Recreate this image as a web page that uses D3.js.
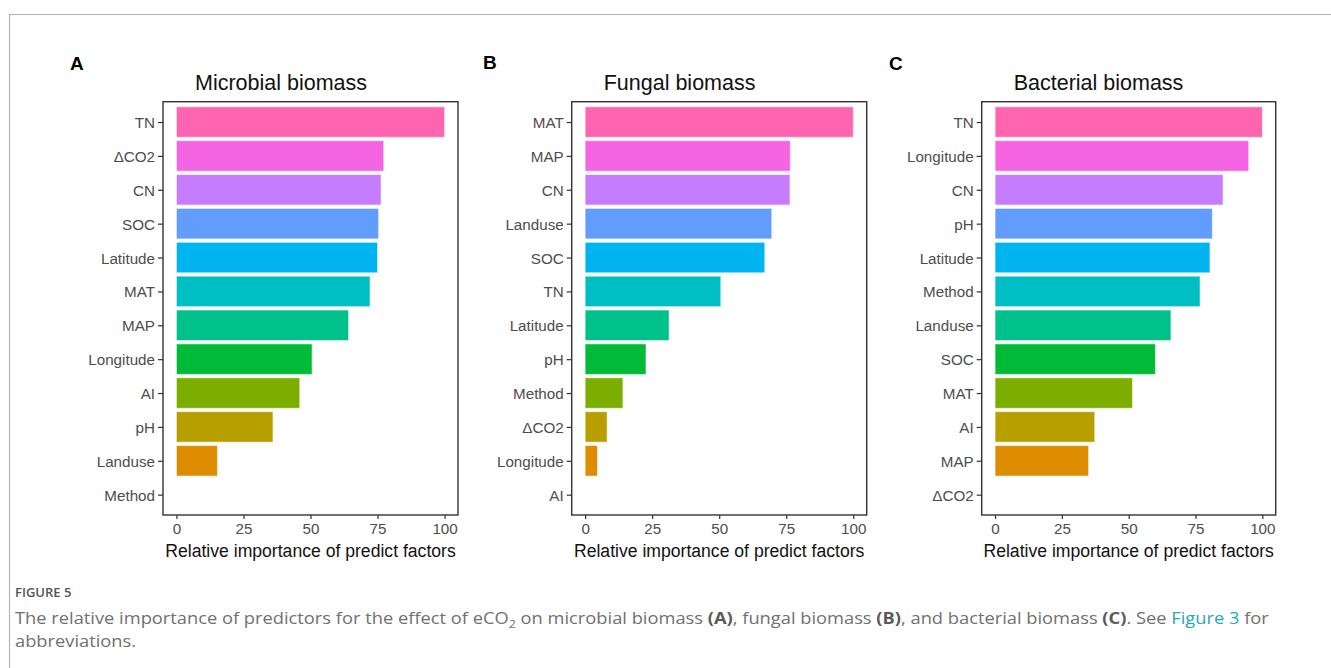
<!DOCTYPE html>
<html>
<head>
<meta charset="utf-8">
<script src="https://cdn.jsdelivr.net/npm/d3@7"></script>
<style>
  html, body { margin: 0; padding: 0; background: #fff; }
  svg { display: block; }
</style>
</head>
<body>
<svg id="fig" width="1331" height="668"></svg>
<script>
// Predictor names (top to bottom) and their relative importance, per response
const microbialFactors = ["TN", "ΔCO2", "CN", "SOC", "Latitude", "MAT", "MAP", "Longitude", "AI", "pH", "Landuse", "Method"];
const microbialValues  = [100, 77.3, 76.3, 75.4, 75.0, 72.2, 64.2, 50.6, 46.0, 36.0, 15.3, 0];

const fungalFactors = ["MAT", "MAP", "CN", "Landuse", "SOC", "TN", "Latitude", "pH", "Method", "ΔCO2", "Longitude", "AI"];
const fungalValues  = [100, 76.5, 76.4, 69.6, 67.0, 50.6, 31.3, 22.7, 14.1, 8.2, 4.6, 0];

const bacterialFactors = ["TN", "Longitude", "CN", "pH", "Latitude", "Method", "Landuse", "SOC", "MAT", "AI", "MAP", "ΔCO2"];
const bacterialValues  = [100, 94.9, 85.3, 81.3, 80.4, 76.7, 65.8, 60.0, 51.4, 37.3, 35.0, 0];

const panelLetters = ["A", "B", "C"];
const panelTitles = ["Microbial biomass", "Fungal biomass", "Bacterial biomass"];
const xTicks = [0, 25, 50, 75, 100];
const xTitle = "Relative importance of predict factors";

// ggplot default hue palette, listed from the top bar down
const barColors = ["#FF64B0", "#F564E3", "#C77CFF", "#619CFF", "#00B4F0", "#00BFC4",
                   "#00C08B", "#00BA38", "#7CAE00", "#B79F00", "#DE8C00", "#F8766D"];

const panels = [
  { factors: microbialFactors, values: microbialValues, left: 163,   right: 458 },
  { factors: fungalFactors,    values: fungalValues,    left: 571.7, right: 866.7 },
  { factors: bacterialFactors, values: bacterialValues, left: 981.7, right: 1275.7 }
];
const panelTop = 101.7, panelBottom = 515;

const svg = d3.select("#fig");
const FONT = "Arial, 'Liberation Sans', Helvetica, sans-serif";

// outer figure frame (top and left rules)
svg.append("line").attr("x1", 9).attr("x2", 1331).attr("y1", 14.5).attr("y2", 14.5)
  .attr("stroke", "#b5b5b5").attr("stroke-width", 1.2);
svg.append("line").attr("x1", 9.5).attr("x2", 9.5).attr("y1", 14).attr("y2", 668)
  .attr("stroke", "#b5b5b5").attr("stroke-width", 1.2);

panels.forEach((p, i) => {
  const g = svg.append("g");
  const x = d3.scaleLinear().domain([-5, 105]).range([p.left, p.right]);
  const y = d3.scalePoint().domain(p.factors).range([panelTop, panelBottom]).padding(0.6);
  const bh = y.step() * 0.9;
  const rows = p.factors.map((f, k) => ({ f, v: p.values[k], c: barColors[k] }));

  // bars
  g.selectAll("rect.bar").data(rows).enter().append("rect")
    .attr("class", "bar")
    .attr("x", x(0))
    .attr("y", d => y(d.f) - bh / 2)
    .attr("width", d => x(d.v) - x(0))
    .attr("height", bh)
    .attr("fill", d => d.c)
    .attr("stroke", d => d.v > 0 ? "rgba(255,255,255,0.55)" : "none")
    .attr("stroke-width", 1);

  // panel border
  g.append("rect").attr("x", p.left).attr("y", panelTop)
    .attr("width", p.right - p.left).attr("height", panelBottom - panelTop)
    .attr("fill", "none").attr("stroke", "#333").attr("stroke-width", 1.4);

  // y axis
  const ya = g.append("g").attr("transform", `translate(${p.left},0)`)
    .call(d3.axisLeft(y).tickSize(5).tickPadding(3));
  ya.select(".domain").remove();
  ya.selectAll(".tick line").attr("stroke", "#333").attr("stroke-width", 1.2);
  ya.selectAll(".tick text").attr("fill", "#4D4D4D").attr("dy", "0.36em")
    .style("font-family", FONT).style("font-size", "15.2px");

  // x axis
  const xa = g.append("g").attr("transform", `translate(0,${panelBottom})`)
    .call(d3.axisBottom(x).tickValues(xTicks).tickSize(4).tickPadding(4));
  xa.select(".domain").remove();
  xa.selectAll(".tick line").attr("stroke", "#333").attr("stroke-width", 1.2);
  xa.selectAll(".tick text").attr("fill", "#4D4D4D")
    .style("font-family", FONT).style("font-size", "15.2px");

  // axis title
  g.append("text").attr("x", (p.left + p.right) / 2).attr("y", 557)
    .attr("text-anchor", "middle").attr("fill", "#111")
    .style("font-family", FONT).style("font-size", "17.6px")
    .text(xTitle);

  // panel title
  g.append("text").attr("x", p.left + 32).attr("y", 89.5)
    .attr("fill", "#111")
    .style("font-family", FONT).style("font-size", "21.5px")
    .text(panelTitles[i]);
});

// panel letters
const letterX = [70, 483, 889];
const letterY = [70, 68.5, 70];
panelLetters.forEach((L, i) => {
  svg.append("text").attr("x", letterX[i]).attr("y", letterY[i])
    .attr("fill", "#000").style("font-family", FONT)
    .style("font-size", "19px").style("font-weight", "bold").text(L);
});

// caption
const CAP = "'Open Sans', Lato, sans-serif";
svg.append("text").attr("x", 15).attr("y", 597)
  .attr("fill", "#555").style("font-family", CAP).style("font-size", "13px")
  .style("font-weight", "600").text("FIGURE 5");

const line1 = svg.append("text").attr("x", 0).attr("y", 624)
  .attr("fill", "#707070").style("font-family", CAP).style("font-size", "16px");
const parts = [
  ["The relative importance of predictors for the effect of eCO", null],
  ["2", "sub"],
  [" on microbial biomass ", null],
  ["(A)", "b"],
  [", fungal biomass ", null],
  ["(B)", "b"],
  [", and bacterial biomass ", null],
  ["(C)", "b"],
  [". See ", null],
  ["Figure 3", "link"],
  [" for", null]
];
parts.forEach(([t, k]) => {
  const s = line1.append("tspan").text(t);
  if (k === "sub") s.attr("dy", 4).style("font-size", "11px");
  if (k === "b") s.style("font-weight", "bold").attr("fill", "#5a5a5a");
  if (k === "link") s.attr("fill", "#2AA5BE");
  if (k === null && t.startsWith(" on")) s.attr("dy", -4);
});
const line2 = svg.append("text").attr("x", 0).attr("y", 647)
  .attr("fill", "#707070").style("font-family", CAP).style("font-size", "16px")
  .text("abbreviations.");

// fit the first caption line to its set measure by a horizontal scale
const target = 1255;
const w = line1.node().getComputedTextLength();
const sx = target / w;
line1.attr("transform", `translate(15,0) scale(${sx},1)`);
line2.attr("transform", `translate(15,0) scale(${sx},1)`);
</script>
</body>
</html>
